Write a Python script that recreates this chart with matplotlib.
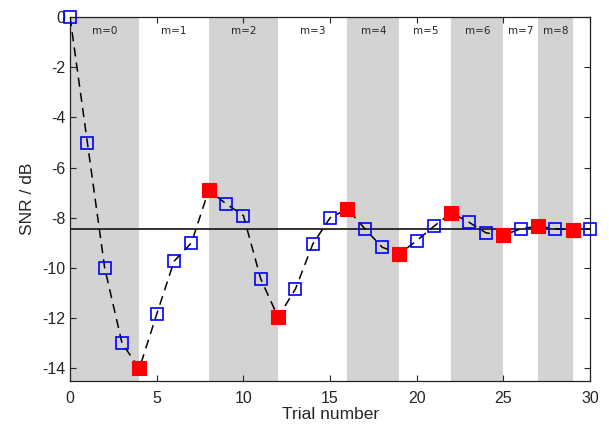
import matplotlib
matplotlib.use("Agg")
import matplotlib.pyplot as plt
import numpy as np

plt.rcParams['font.family'] = ['Liberation Sans', 'DejaVu Sans']
plt.rcParams['axes.unicode_minus'] = False

trials = list(range(31))
snr = [0.0, -5.0, -10.0, -13.0, -14.0, -11.84, -9.73, -9.0, -6.9, -7.44,
       -7.91, -10.43, -11.96, -10.84, -9.05, -8.0, -7.64, -8.43, -9.17, -9.43,
       -8.91, -8.33, -7.8, -8.17, -8.6, -8.69, -8.44, -8.33, -8.44, -8.48, -8.44]
reversals = [4, 8, 12, 16, 19, 22, 25, 27, 29]
block_edges = [0, 4, 8, 12, 16, 19, 22, 25, 27, 29]
block_labels = ["m=0", "m=1", "m=2", "m=3", "m=4", "m=5", "m=6", "m=7", "m=8"]
mean_snr = -8.43

txt = '#262626'
fig = plt.figure(figsize=(6.09, 4.28), dpi=100)
ax = fig.add_axes([0.115, 0.11, 0.854, 0.85])

for i, lab in enumerate(block_labels):
    a, b = block_edges[i], block_edges[i + 1]
    if i % 2 == 0:
        ax.axvspan(a, b, color='#d3d3d3', lw=0, zorder=0)
    ax.text((a + b) / 2, -0.55, lab, ha='center', va='center', fontsize=7.5,
            family=['DejaVu Sans'], color=txt, zorder=1)

ax.axhline(mean_snr, color='#222222', lw=1.3, zorder=2)
ax.plot(trials, snr, color='black', lw=1.1, ls=(0, (6, 4)), zorder=3)

blue_x = [t for t in trials if t not in reversals]
blue_y = [snr[t] for t in blue_x]
red_y = [snr[t] for t in reversals]
ax.plot(blue_x, blue_y, ls='none', marker='s', ms=9, mfc='none', mec='#0000ff',
        mew=1.2, zorder=4, clip_on=False)
ax.plot(reversals, red_y, ls='none', marker='s', ms=9.5, mfc='#ff0000', mec='#ff0000',
        mew=0.8, zorder=5, clip_on=False)

ax.set_xlim(0, 30)
ax.set_ylim(-14.5, 0)
ax.set_xticks([0, 5, 10, 15, 20, 25, 30])
ax.set_yticks([-14, -12, -10, -8, -6, -4, -2, 0])
ax.tick_params(direction='in', top=True, right=True, labelsize=11.5, length=4,
               width=0.8, colors='#262626', labelcolor=txt)
ax.tick_params(axis='x', pad=7)
for s in ax.spines.values():
    s.set_linewidth(0.9)
    s.set_color('#222222')
ax.set_xlabel('Trial number', fontsize=12.5, labelpad=1, color=txt)
ax.set_ylabel('SNR / dB', fontsize=12.5, labelpad=5, color=txt)

fig.savefig('out.png', dpi=100)
